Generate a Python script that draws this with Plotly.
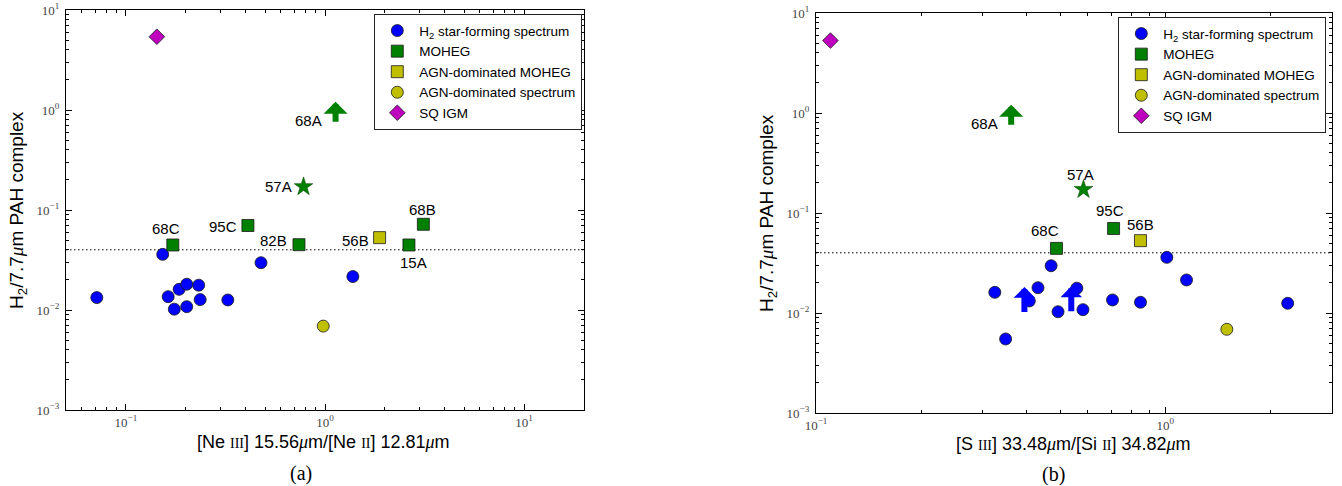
import numpy as np
import plotly.graph_objects as go

# ---------------- panel (a): [Ne III] 15.56um / [Ne II] 12.81um ----------------
ne_sf_x = [0.0714, 0.153, 0.163, 0.175, 0.185, 0.202, 0.202, 0.232, 0.236, 0.325, 0.477, 1.38]
ne_sf_y = [0.0133, 0.036, 0.0136, 0.0102, 0.0161, 0.0181, 0.0108, 0.0177, 0.0127, 0.0126, 0.0297, 0.0216]
ne_moheg_names = ["68C", "95C", "82B", "68B", "15A"]
ne_moheg_x = [0.172, 0.41, 0.74, 3.12, 2.64]
ne_moheg_y = [0.0447, 0.070, 0.045, 0.072, 0.0447]
ne_agn_moheg_names = ["56B"]
ne_agn_moheg_x = [1.88]
ne_agn_moheg_y = [0.0529]
ne_agn_spec_x = [0.98]
ne_agn_spec_y = [0.0069]
ne_sq_x = [0.143]
ne_sq_y = [5.4]
ne_star_names = ["57A"]
ne_star_x = [0.78]
ne_star_y = [0.171]
ne_limit_names = ["68A"]
ne_limit_x = [1.13]
ne_limit_y = [0.95]
ne_xrange = [0.05, 20.0]

# ---------------- panel (b): [S III] 33.48um / [Si II] 34.82um ----------------
s_sf_x = [0.325, 0.349, 0.408, 0.432, 0.471, 0.493, 0.558, 0.581, 0.706, 0.849, 1.01, 1.15, 2.24]
s_sf_y = [0.0161, 0.0055, 0.0132, 0.0179, 0.0297, 0.0103, 0.0177, 0.0108, 0.0135, 0.0128, 0.036, 0.0214, 0.0125]
s_sf_limit_x = [0.395, 0.538]
s_sf_limit_y = [0.0135, 0.0137]
s_moheg_names = ["68C", "95C"]
s_moheg_x = [0.488, 0.711]
s_moheg_y = [0.0443, 0.070]
s_agn_moheg_names = ["56B"]
s_agn_moheg_x = [0.849]
s_agn_moheg_y = [0.0529]
s_agn_spec_x = [1.50]
s_agn_spec_y = [0.00687]
s_sq_x = [0.110]
s_sq_y = [5.3]
s_star_names = ["57A"]
s_star_x = [0.583]
s_star_y = [0.172]
s_limit_names = ["68A"]
s_limit_x = [0.362]
s_limit_y = [0.95]
s_xrange = [0.1, 3.0]

# shared
y_range = [1e-3, 10.0]
h2_threshold = 0.04
decade_ticks = [1e-3, 1e-2, 1e-1, 1e0, 1e1]
decade_text = ["10<sup>\u22123</sup>", "10<sup>\u22122</sup>", "10<sup>\u22121</sup>",
               "10<sup>0</sup>", "10<sup>1</sup>"]

# ---------------- styling ----------------
W, H = 1342, 486
BLUE, GREEN, YELLOW, MAGENTA = "#0000ff", "#008000", "#bfbf00", "#bf00bf"
EDGE = dict(color="#1a1a1a", width=0.8)
SANS = "Liberation Sans, Arial, sans-serif"
SERIF = "Liberation Serif, Times New Roman, serif"

fig = go.Figure()


def px_x(p):
    return p / W


def px_y(p):
    return 1 - p / H


def add_panel(xa, ya, legend, xr, sf, moheg, agn_moheg, agn_spec, sq, star):
    # threshold line across the full x range
    fig.add_trace(go.Scatter(x=xr, y=[h2_threshold, h2_threshold], mode="lines",
                             line=dict(color="black", width=1, dash="1.5px,2.5px"),
                             xaxis=xa, yaxis=ya, showlegend=False, hoverinfo="skip"))
    groups = [
        (sf, "H<sub>2</sub> star-forming spectrum", "circle", BLUE, 12),
        (moheg, "MOHEG", "square", GREEN, 12),
        (agn_moheg, "AGN-dominated MOHEG", "square", YELLOW, 12),
        (agn_spec, "AGN-dominated spectrum", "circle", YELLOW, 12),
        (sq, "SQ IGM", "diamond", MAGENTA, 12),
    ]
    for (gx, gy), name, sym, col, size in groups:
        fig.add_trace(go.Scatter(x=gx, y=gy, mode="markers", name=name,
                                 marker=dict(symbol=sym, color=col, size=size, line=EDGE),
                                 xaxis=xa, yaxis=ya, legend=legend))
    fig.add_trace(go.Scatter(x=star[0], y=star[1], mode="markers", showlegend=False,
                             marker=dict(symbol="star", color=GREEN, size=14,
                                         line=dict(color="#0a4a0a", width=0.6)),
                             xaxis=xa, yaxis=ya))


add_panel("x", "y", "legend", ne_xrange,
          (ne_sf_x, ne_sf_y), (ne_moheg_x, ne_moheg_y), (ne_agn_moheg_x, ne_agn_moheg_y),
          (ne_agn_spec_x, ne_agn_spec_y), (ne_sq_x, ne_sq_y), (ne_star_x, ne_star_y))
add_panel("x2", "y2", "legend2", s_xrange,
          (s_sf_x, s_sf_y), (s_moheg_x, s_moheg_y), (s_agn_moheg_x, s_agn_moheg_y),
          (s_agn_spec_x, s_agn_spec_y), (s_sq_x, s_sq_y), (s_star_x, s_star_y))


# lower-limit arrows, centred on the measured value
def limit_arrow(xref, yref, x, y, color, length, head):
    fig.add_annotation(x=np.log10(x), y=np.log10(y), xref=xref, yref=yref,
                       text=" ", font=dict(size=1), borderpad=0,
                       showarrow=True, arrowhead=1, arrowsize=head, arrowwidth=6,
                       arrowcolor=color, ax=0, ay=length, yshift=length / 2, standoff=0)


for x, y in zip(ne_limit_x, ne_limit_y):
    limit_arrow("x", "y", x, y, GREEN, 21, 0.667)
for x, y in zip(s_limit_x, s_limit_y):
    limit_arrow("x2", "y2", x, y, GREEN, 21, 0.667)
for x, y in zip(s_sf_limit_x, s_sf_limit_y):
    limit_arrow("x2", "y2", x, y, BLUE, 26, 0.6)

# source labels: (xanchor, xshift, yshift) per label
LABEL_FONT = dict(family=SANS, size=15, color="black")


def label(xref, yref, names, xs, ys, offsets):
    for n, x, y in zip(names, xs, ys):
        anchor, dx, dy = offsets[n]
        fig.add_annotation(x=np.log10(x), y=np.log10(y), xref=xref, yref=yref, text=n,
                           showarrow=False, xanchor=anchor, yanchor="middle",
                           xshift=dx, yshift=dy, font=LABEL_FONT)


ne_offsets = {"68C": ("center", -7, 16), "95C": ("right", -9, -1), "82B": ("right", -10, 4),
              "68B": ("center", -1, 15), "15A": ("center", 5, -18), "56B": ("right", -9, -3),
              "57A": ("right", -10, 0), "68A": ("right", -12, -8)}
s_offsets = {"68C": ("center", -11, 18), "95C": ("center", -4, 18), "56B": ("center", 0, 16),
             "57A": ("center", -3, 15), "68A": ("right", -11, -8)}

label("x", "y", ne_moheg_names, ne_moheg_x, ne_moheg_y, ne_offsets)
label("x", "y", ne_agn_moheg_names, ne_agn_moheg_x, ne_agn_moheg_y, ne_offsets)
label("x", "y", ne_star_names, ne_star_x, ne_star_y, ne_offsets)
label("x", "y", ne_limit_names, ne_limit_x, ne_limit_y, ne_offsets)
label("x2", "y2", s_moheg_names, s_moheg_x, s_moheg_y, s_offsets)
label("x2", "y2", s_agn_moheg_names, s_agn_moheg_x, s_agn_moheg_y, s_offsets)
label("x2", "y2", s_star_names, s_star_x, s_star_y, s_offsets)
label("x2", "y2", s_limit_names, s_limit_x, s_limit_y, s_offsets)

# axis titles and sub-captions
TITLE_FONT = dict(family=SANS, size=18, color="black")
MU = "<span style=\"font-family:'Liberation Serif'\"><i>\u03bc</i></span>"


def sc(t):
    return f"<span style=\"font-family:'Liberation Serif';font-size:14px\">{t}</span>"


def paper_text(px, py, text, font, angle=0):
    fig.add_annotation(xref="paper", yref="paper", x=px_x(px), y=px_y(py), showarrow=False,
                       xanchor="center", yanchor="middle", textangle=angle, text=text, font=font)


ytitle = f"H<sub>2</sub>/7.7{MU}m PAH complex"
paper_text(323, 442, f"[Ne {sc('III')}] 15.56{MU}m/[Ne {sc('II')}] 12.81{MU}m", TITLE_FONT)
paper_text(1073, 444, f"[S {sc('III')}] 33.48{MU}m/[Si {sc('II')}] 34.82{MU}m", TITLE_FONT)
paper_text(18, 210, ytitle, dict(family=SANS, size=19, color="black"), -90)
paper_text(768, 213, ytitle, dict(family=SANS, size=19, color="black"), -90)
paper_text(301, 473, "(a)", dict(family=SERIF, size=20, color="black"))
paper_text(1053, 474, "(b)", dict(family=SERIF, size=20, color="black"))


def minor_vals(lo, hi):
    e0, e1 = int(np.floor(np.log10(lo))), int(np.ceil(np.log10(hi)))
    return [m * 10.0 ** e for e in range(e0, e1) for m in range(2, 10)
            if lo <= m * 10.0 ** e <= hi]


def log_axis(rng, domain, anchor, standoff):
    return dict(type="log", range=[np.log10(rng[0]), np.log10(rng[1])], domain=domain,
                anchor=anchor, showline=True, linecolor="black", linewidth=1.3,
                mirror="allticks", ticks="inside", ticklen=6, tickwidth=1, tickcolor="black",
                tickmode="array", tickvals=[v for v in decade_ticks if rng[0] <= v <= rng[1]],
                ticktext=[t for v, t in zip(decade_ticks, decade_text) if rng[0] <= v <= rng[1]],
                minor=dict(tickmode="array", tickvals=minor_vals(*rng), ticks="inside",
                           ticklen=3, tickwidth=1, tickcolor="black"),
                tickfont=dict(family=SERIF, size=13, color="#444"), ticklabelstandoff=standoff,
                showgrid=False, zeroline=False, automargin=False)


LEGEND = dict(xanchor="right", yanchor="top", bgcolor="white", bordercolor="#222",
              borderwidth=1.3, font=dict(family=SANS, size=13.5, color="black"),
              itemsizing="trace", itemwidth=34, tracegroupgap=0)

fig.update_layout(
    width=W, height=H, margin=dict(l=0, r=0, t=0, b=0, autoexpand=False),
    paper_bgcolor="white", plot_bgcolor="white",
    xaxis=log_axis(ne_xrange, [px_x(66), px_x(584)], "y", 0),
    yaxis=log_axis(y_range, [px_y(410), px_y(10)], "x", 3),
    xaxis2=log_axis(s_xrange, [px_x(816), px_x(1332)], "y2", 0),
    yaxis2=log_axis(y_range, [px_y(413), px_y(13)], "x2", 3),
    legend=dict(LEGEND, x=px_x(582), y=px_y(14)),
    legend2=dict(LEGEND, x=px_x(1326), y=px_y(17)),
)

fig.write_html("out.html")
